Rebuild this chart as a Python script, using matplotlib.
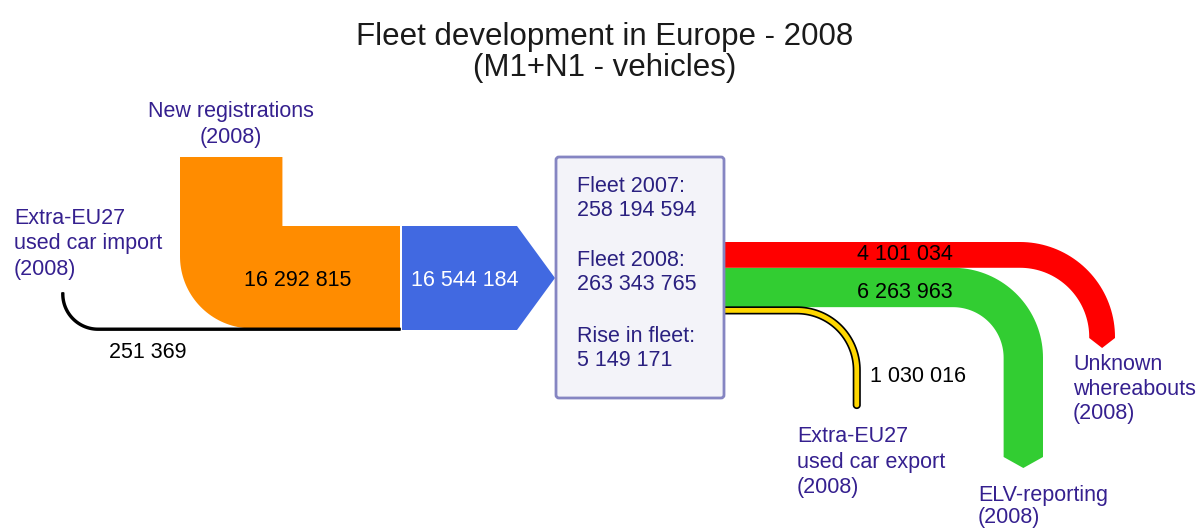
import numpy as np
import matplotlib.pyplot as plt
from matplotlib.patches import Polygon, FancyBboxPatch

plt.rcParams['font.family'] = ['Liberation Sans', 'DejaVu Sans']

# vehicle flows, 2008 (M1+N1)
new_registrations = 16292815
used_import = 251369
inflow_total = 16544184
unknown_whereabouts = 4101034
elv_reporting = 6263963
used_export = 1030016
fleet_2007 = 258194594
fleet_2008 = 263343765
fleet_rise = 5149171

LABEL = '#35208f'
BOX_TXT = '#2a2080'


def fmt(v):
    return f"{v:,}".replace(",", " ")


def arc(cx, cy, r, a0, a1, n=40):
    t = np.radians(np.linspace(a0, a1, n))
    return np.column_stack([cx + r * np.cos(t), cy + r * np.sin(t)])


def out_band(x0, y_top, w, x_turn, R, y_end, tip, cap='chevron'):
    # horizontal to the right, then bends down
    cy = y_top + R
    r = R - w
    pts = [(x0, y_top)]
    pts += list(arc(x_turn, cy, R, -90, 0))
    if cap == 'round':
        pts += list(arc(x_turn + R - w / 2, y_end, w / 2, 0, 180))
    else:
        pts += [(x_turn + R, y_end), (x_turn + R - w / 2, y_end + tip), (x_turn + r, y_end)]
    pts += list(arc(x_turn, cy, r, 0, -90))
    pts += [(x0, y_top + w)]
    return np.array(pts)


def lines(x, y, txt, step, **kw):
    for i, t in enumerate(txt):
        ax.text(x, y + i * step, t, va='center', **kw)


fig = plt.figure(figsize=(12, 5.29), dpi=100)
ax = fig.add_axes([0, 0, 1, 1])
ax.set_xlim(0, 1200)
ax.set_ylim(529, 0)
ax.axis('off')

px = 104 / inflow_total  # pixels per vehicle

# inflows
y_in = 226
w_new = new_registrations * px
w_imp = used_import * px
yb = y_in + w_new
R = 72
orange = [(180, 157), (180, yb - R)]
orange += list(arc(180 + R, yb - R, R, 180, 90))
orange += [(400, yb), (400, y_in), (180 + w_new, y_in), (180 + w_new, 157)]
ax.add_patch(Polygon(orange, closed=True, fc='#ff8c00', ec='none'))

Ri = 36
cx, cy = 62 + Ri, yb + w_imp - Ri
imp = [(62, 293), (62, cy)]
imp += list(arc(cx, cy, Ri, 180, 90))
imp += [(400, yb + w_imp), (400, yb)]
imp += list(arc(cx, cy, Ri - w_imp, 90, 180))
imp += [(62 + w_imp, 293)]
ax.add_patch(Polygon(imp, closed=True, fc='black', ec='black', lw=1.3, joinstyle='round'))

h_in = inflow_total * px
blue = [(402, y_in), (517, y_in), (555, y_in + h_in / 2), (517, y_in + h_in), (402, y_in + h_in)]
ax.add_patch(Polygon(blue, closed=True, fc='#4169e1', ec='none'))

# outflows
w_red = unknown_whereabouts * px
w_grn = elv_reporting * px
w_yel = used_export * px
y_red = 242
ax.add_patch(Polygon(out_band(724, y_red + w_red, w_grn, 953, 90, 457, 11),
                     closed=True, fc='#32cd32', ec='none'))
ax.add_patch(Polygon(out_band(724, y_red, w_red, 1020, 95, 338, 10),
                     closed=True, fc='#ff0000', ec='none'))
ax.add_patch(Polygon(out_band(724, y_red + w_red + w_grn, w_yel, 797, 63, 405, 0, cap='round'),
                     closed=True, fc='#ffd700', ec='black', lw=1.2))

# fleet box
ax.add_patch(FancyBboxPatch((556, 157), 168, 241, boxstyle='round,pad=0,rounding_size=3',
                            fc='#f3f3f9', ec='#8585c2', lw=2, zorder=3))

# texts
ax.text(605, 37, "Fleet development in Europe - 2008", ha='center', va='center',
        fontsize=22.5, color='#1a1a1a')
ax.text(605, 68, "(M1+N1 - vehicles)", ha='center', va='center', fontsize=22.5, color='#1a1a1a')

fs = 15.5
lines(231, 112, ["New registrations", "(2008)"], 25, ha='center', fontsize=fs, color=LABEL)
lines(14, 218, ["Extra-EU27", "used car import", "(2008)"], 26, ha='left', fontsize=fs, color=LABEL)
lines(797, 437, ["Extra-EU27", "used car export", "(2008)"], 25.5, ha='left', fontsize=fs, color=LABEL)
lines(978, 495, ["ELV-reporting", "(2008)"], 22, ha='left', fontsize=fs, color=LABEL)
lines(1073, 365, ["Unknown", "whereabouts", "(2008)"], 24.5, ha='left', fontsize=fs, color=LABEL)

ax.text(298, 280, fmt(new_registrations), ha='center', va='center', fontsize=fs, color='black')
ax.text(148, 353, fmt(used_import), ha='center', va='center', fontsize=fs, color='black')
ax.text(465, 280, fmt(inflow_total), ha='center', va='center', fontsize=fs, color='white')
ax.text(905, 255, fmt(unknown_whereabouts), ha='center', va='center', fontsize=fs, color='black')
ax.text(905, 292, fmt(elv_reporting), ha='center', va='center', fontsize=fs, color='black')
ax.text(870, 376, fmt(used_export), ha='left', va='center', fontsize=fs, color='black')

box_lines = [("Fleet 2007:", 186), (fmt(fleet_2007), 210),
             ("Fleet 2008:", 261), (fmt(fleet_2008), 285),
             ("Rise in fleet:", 336), (fmt(fleet_rise), 360)]
for t, y in box_lines:
    ax.text(577, y, t, ha='left', va='center', fontsize=fs, color=BOX_TXT, zorder=4)

fig.savefig('out.png', dpi=100)
